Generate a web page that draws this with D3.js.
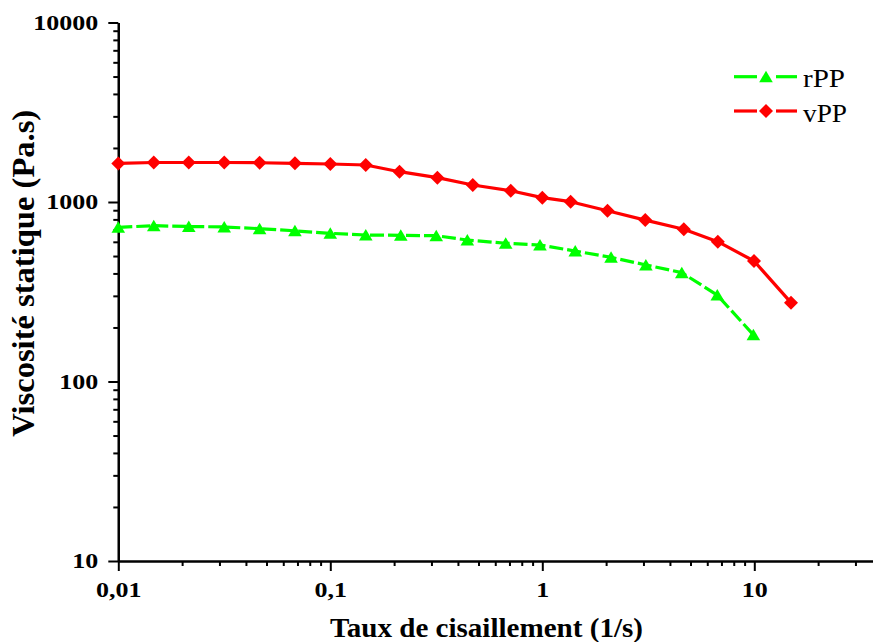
<!DOCTYPE html>
<html>
<head>
<meta charset="utf-8">
<script src="https://cdn.jsdelivr.net/npm/d3@7"></script>
<style>
  html, body { margin: 0; padding: 0; background: #fff; }
  svg { display: block; }
</style>
</head>
<body>
<svg id="chart" width="873" height="642"></svg>
<script>
// ---- data ----
const seriesNames = ["rPP", "vPP"];
const seriesColors = ["#00ff00", "#ff0000"];

const shearRPP = [0.01, 0.0147, 0.0215, 0.0316, 0.0464, 0.0681, 0.1, 0.147, 0.215, 0.316, 0.443, 0.672, 0.975, 1.43, 2.11, 3.08, 4.55, 6.69, 9.9];
const viscRPP  = [723, 738, 730, 726, 710, 691, 669, 655, 652, 649, 614, 589, 576, 533, 492, 446, 404, 303, 182];

const shearVPP = [0.01, 0.0147, 0.0215, 0.0316, 0.0464, 0.0681, 0.1, 0.147, 0.212, 0.32, 0.47, 0.71, 1.0, 1.36, 2.03, 3.06, 4.65, 6.73, 9.97, 14.9];
const viscVPP  = [1640, 1660, 1660, 1660, 1655, 1643, 1628, 1607, 1475, 1366, 1243, 1156, 1057, 1004, 894, 793, 705, 601, 469, 275];

const xMajorTicks = [0.01, 0.1, 1, 10];
const xTickLabels = ["0,01", "0,1", "1", "10"];
const yMajorTicks = [10, 100, 1000, 10000];
const yTickLabels = ["10", "100", "1000", "10000"];

const xTitle = "Taux de cisaillement (1/s)";
const yTitle = "Viscosité statique (Pa.s)";

(function () {
// ---- layout ----
const pLeft = 118.3, pRight = 873, pTop = 22.5, pBottom = 561;
const xMax = Math.pow(10, (pRight - pLeft) / 212 - 2);

const x = d3.scaleLog().domain([0.01, xMax]).range([pLeft, pRight]);
const y = d3.scaleLog().domain([10, 10000]).range([pBottom, pTop]);

const minorOf = (majors, maxV) => {
  const out = [];
  majors.forEach(d => { for (let m = 2; m <= 9; m++) { if (d * m <= maxV) out.push(d * m); } });
  return out;
};
const xMinor = minorOf([0.01, 0.1, 1, 10], xMax);
const yMinor = minorOf([10, 100, 1000], 10000);

const svg = d3.select("#chart");
const serif = "'Liberation Serif', 'Times New Roman', serif";

// ---- axes ----
function styleAxis(g) {
  g.select(".domain").attr("stroke", "#000").attr("stroke-width", 2.2);
  g.selectAll(".tick line").attr("stroke", "#000").attr("stroke-width", 2);
}

svg.append("g").attr("transform", `translate(0,${pBottom})`)
  .call(d3.axisBottom(x).tickValues(xMinor).tickSize(5).tickSizeOuter(0).tickFormat(""))
  .call(styleAxis);
const gx = svg.append("g").attr("transform", `translate(0,${pBottom})`)
  .call(d3.axisBottom(x).tickValues(xMajorTicks).tickSize(10).tickSizeOuter(0)
    .tickFormat((d, i) => xTickLabels[i]))
  .call(styleAxis);
gx.selectAll(".tick text")
  .attr("font-family", serif).attr("font-weight", "bold").attr("font-size", 20)
  .attr("fill", "#000").attr("y", 0).attr("dy", 0)
  .attr("transform", "translate(0,36) scale(1.3,1)");

svg.append("g").attr("transform", `translate(${pLeft},0)`)
  .call(d3.axisLeft(y).tickValues(yMinor).tickSize(5).tickSizeOuter(0).tickFormat(""))
  .call(styleAxis);
const gy = svg.append("g").attr("transform", `translate(${pLeft},0)`)
  .call(d3.axisLeft(y).tickValues(yMajorTicks).tickSize(10).tickSizeOuter(0)
    .tickFormat((d, i) => yTickLabels[i]))
  .call(styleAxis);
gy.selectAll(".tick text")
  .attr("font-family", serif).attr("font-weight", "bold").attr("font-size", 20)
  .attr("fill", "#000").attr("x", 0).attr("dy", 0)
  .attr("text-anchor", "end")
  .attr("transform", "translate(-20,6.7) scale(1.3,1)");

// titles
svg.append("text")
  .attr("x", 486.5 - 313 / 2).attr("y", 637)
  .attr("font-family", serif).attr("font-weight", "bold").attr("font-size", 27)
  .attr("textLength", 313).attr("lengthAdjust", "spacingAndGlyphs")
  .text(xTitle);

svg.append("text")
  .attr("transform", `translate(33.5,273.3) rotate(-90)`)
  .attr("x", -327 / 2).attr("y", 0)
  .attr("font-family", serif).attr("font-weight", "bold").attr("font-size", 31)
  .attr("textLength", 327).attr("lengthAdjust", "spacingAndGlyphs")
  .text(yTitle);

// ---- series ----
const series = [
  { name: seriesNames[0], color: seriesColors[0], xs: shearRPP, ys: viscRPP, marker: "tri", dash: "14,4" },
  { name: seriesNames[1], color: seriesColors[1], xs: shearVPP, ys: viscVPP, marker: "dia", dash: null }
];

const triPath = "M0,-6 L6.8,5.5 L-6.8,5.5 Z";
const diaPath = "M0,-7 L7,0 L0,7 L-7,0 Z";

const line = d3.line().x(d => x(d[0])).y(d => y(d[1]));

series.forEach(s => {
  const pts = s.xs.map((v, i) => [v, s.ys[i]]);
  svg.append("path").datum(pts)
    .attr("d", line).attr("fill", "none")
    .attr("stroke", s.color).attr("stroke-width", 3.2)
    .attr("stroke-linejoin", "round")
    .attr("stroke-dasharray", s.dash);
  svg.append("g").selectAll("path").data(pts).join("path")
    .attr("d", s.marker === "tri" ? triPath : diaPath)
    .attr("transform", d => `translate(${x(d[0])},${y(d[1])})`)
    .attr("fill", s.color);
});

// ---- legend ----
const legendRows = [
  { y: 76.7, tY: 87, tLen: 42 },
  { y: 111, tY: 121.5, tLen: 44 }
];
series.forEach((s, i) => {
  const r = legendRows[i];
  const g = svg.append("g");
  g.append("line").attr("x1", 734).attr("x2", 757).attr("y1", r.y).attr("y2", r.y)
    .attr("stroke", s.color).attr("stroke-width", 3.2);
  g.append("line").attr("x1", 776).attr("x2", 797).attr("y1", r.y).attr("y2", r.y)
    .attr("stroke", s.color).attr("stroke-width", 3.2);
  g.append("path").attr("d", s.marker === "tri" ? triPath : diaPath)
    .attr("transform", `translate(766,${r.y})`).attr("fill", s.color);
  g.append("text").attr("x", 803).attr("y", r.tY)
    .attr("font-family", serif).attr("font-size", 25)
    .attr("textLength", r.tLen).attr("lengthAdjust", "spacingAndGlyphs")
    .text(s.name);
});
})();
</script>
</body>
</html>
